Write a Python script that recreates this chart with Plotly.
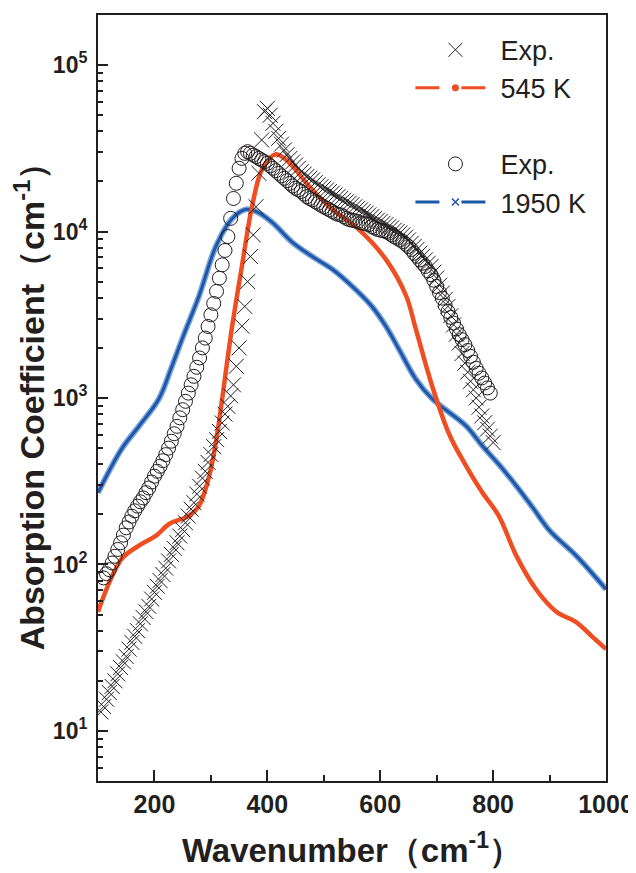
import plotly.graph_objects as go

# ---------------- data ----------------
exp545_x = [105, 110, 115, 120, 125, 130, 135, 140, 145, 150, 155, 160, 165, 170, 175, 180,
            185, 190, 195, 200, 205, 210, 215, 220, 225, 230, 235, 240, 245, 250, 255, 260,
            265, 270, 275, 280, 285, 290, 295, 300, 305, 310, 315, 320, 325, 330, 335, 340,
            345, 350, 355, 360, 365, 370, 375, 380, 385, 390, 395, 400, 405, 410, 415, 420,
            425, 430, 435, 440, 445, 450, 455, 460, 465, 470, 475, 480, 485, 490, 495, 500,
            505, 510, 515, 520, 525, 530, 535, 540, 545, 550, 555, 560, 565, 570, 575, 580,
            585, 590, 595, 600, 605, 610, 615, 620, 625, 630, 635, 640, 645, 650, 655, 660,
            665, 670, 675, 680, 685, 690, 695, 700, 705, 710, 715, 720, 725, 730, 735, 740,
            745, 750, 755, 760, 765, 770, 775, 780, 785, 790, 795, 800]
exp545_y = [13, 14, 15.5, 17, 18.5, 20, 22, 24, 26, 28, 31, 34, 37, 40, 44, 48,
            52, 56, 62, 68, 74, 80, 87, 95, 105, 115, 125, 135, 148, 162, 178, 195,
            215, 235, 265, 295, 330, 363, 410, 457, 510, 562, 630, 708, 800, 891, 1030, 1200,
            1550, 2000, 2700, 3550, 5000, 7080, 9550, 14100, 22400, 35500, 52500, 55000, 50000, 44700, 40000, 36300,
            33500, 30900, 29000, 27500, 26200, 25100, 24000, 22900, 22100, 21400, 20900, 20400, 19700, 19100, 18600, 18200,
            17800, 17400, 17000, 16600, 16200, 15800, 15400, 15100, 14800, 14500, 14100, 13800, 13500, 13200, 12900, 12600,
            12300, 12000, 11700, 11500, 11200, 11000, 10700, 10500, 10200, 10000, 9800, 9550, 9250, 8900, 8500, 8130,
            7800, 7410, 7100, 6760, 6450, 6170, 5700, 5250, 4750, 4270, 3900, 3550, 3120, 2750, 2420, 2140,
            1850, 1620, 1430, 1260, 1120, 1000, 880, 780, 710, 650, 590, 540]

exp1950_x = [110, 115, 120, 125, 130, 135, 140, 145, 150, 155, 160, 165, 170, 175, 180, 185,
             190, 195, 200, 205, 210, 215, 220, 225, 230, 235, 240, 245, 250, 255, 260, 265,
             270, 275, 280, 285, 290, 295, 300, 305, 310, 315, 320, 325, 330, 335, 340, 345,
             350, 355, 360, 365, 370, 375, 380, 385, 390, 395, 400, 405, 410, 415, 420, 425,
             430, 435, 440, 445, 450, 455, 460, 465, 470, 475, 480, 485, 490, 495, 500, 505,
             510, 515, 520, 525, 530, 535, 540, 545, 550, 555, 560, 565, 570, 575, 580, 585,
             590, 595, 600, 605, 610, 615, 620, 625, 630, 635, 640, 645, 650, 655, 660, 665,
             670, 675, 680, 685, 690, 695, 700, 705, 710, 715, 720, 725, 730, 735, 740, 745,
             750, 755, 760, 765, 770, 775, 780, 785, 790, 795]
exp1950_y = [83, 88, 93, 102, 112, 123, 135, 150, 166, 180, 195, 210, 224, 238, 251, 270,
             288, 313, 339, 363, 389, 420, 457, 500, 550, 610, 676, 760, 851, 955, 1070, 1200,
             1350, 1530, 1740, 2000, 2290, 2690, 3160, 3700, 4370, 5250, 6310, 7700, 9330, 12000, 15800, 19500,
             24000, 27500, 29500, 30200, 29500, 28800, 28200, 27500, 26900, 26300, 25700, 24800, 24000, 23200, 22400, 21600,
             20900, 20200, 19500, 18800, 18200, 17800, 17400, 16800, 16200, 15800, 15500, 15100, 14800, 14400, 14100, 13800,
             13500, 13200, 12900, 12700, 12600, 12300, 12000, 11800, 11700, 11600, 11500, 11300, 11200, 11100, 11000, 10700,
             10500, 10300, 10200, 10100, 10000, 9800, 9550, 9300, 9120, 8900, 8710, 8400, 8130, 7800, 7410, 7100,
             6760, 6450, 6170, 5800, 5500, 5100, 4680, 4300, 3980, 3600, 3310, 3050, 2820, 2600, 2400, 2240,
             2090, 1930, 1780, 1640, 1510, 1410, 1320, 1230, 1150, 1070]

model545_x = [100, 142, 173, 203, 226, 261, 279, 297, 309, 320, 337, 355, 373, 391, 415, 438,
              474, 515, 562, 610, 646, 663, 692, 722, 752, 780, 810, 841, 876, 912, 947, 975, 1000]
model545_y = [52, 108, 130, 149, 175, 196, 225, 340, 545, 990, 2600, 6200, 14200, 23700, 29100, 26100,
              18700, 13600, 10300, 6800, 4100, 2600, 1180, 608, 391, 273, 196, 113, 71, 52, 45, 37, 31]

model1950_x = [100, 142, 173, 208, 230, 252, 279, 309, 337, 362, 380, 408, 444, 479, 515, 550,
               585, 610, 633, 663, 692, 752, 780, 810, 840, 870, 900, 947, 1000]
model1950_y = [270, 495, 680, 990, 1520, 2400, 4100, 8170, 11900, 13600, 13200, 11400, 8630, 7100, 5940, 4700,
               3560, 2700, 1970, 1300, 990, 680, 520, 400, 300, 220, 160, 113, 71]

y_tickvals = [10, 100, 1000, 10000, 100000]
y_ticktext = ["10<sup>1</sup>", "10<sup>2</sup>", "10<sup>3</sup>", "10<sup>4</sup>", "10<sup>5</sup>"]
y_minor = [m * d for d in [1, 10, 100, 1000, 10000, 100000] for m in range(2, 10)]
x_tickvals = [200, 400, 600, 800, 1000]
x_minor = [300, 500, 700, 900]

RED = "#ef4e23"
BLUE = "#1d58a8"
BLUE_LIGHT = "#7fa6da"
INK = "#231f20"
FONT = "Liberation Sans, Arial, sans-serif"

fig = go.Figure()

# model curves
fig.add_trace(go.Scatter(x=model1950_x, y=model1950_y, mode="lines", line=dict(color=BLUE_LIGHT, width=6, shape="spline"),
                         showlegend=False, hoverinfo="skip"))
fig.add_trace(go.Scatter(x=model1950_x, y=model1950_y, mode="lines", line=dict(color=BLUE, width=3, shape="spline"),
                         showlegend=False))
fig.add_trace(go.Scatter(x=model545_x, y=model545_y, mode="lines", line=dict(color=RED, width=4.5, shape="spline"),
                         showlegend=False))

# experimental data
fig.add_trace(go.Scatter(x=exp1950_x, y=exp1950_y, mode="markers",
                         marker=dict(symbol="circle-open", size=14, color=INK, line=dict(width=1)),
                         showlegend=False))
fig.add_trace(go.Scatter(x=exp545_x, y=exp545_y, mode="markers",
                         marker=dict(symbol="x-thin-open", size=15, color=INK, line=dict(width=1, color=INK)),
                         showlegend=False))

# legend entries
fig.add_trace(go.Scatter(x=[None], y=[None], mode="markers", name="Exp.", legend="legend", legendgroup="a",
                         marker=dict(symbol="x-thin-open", size=14, color=INK, line=dict(width=1, color=INK))))
fig.add_trace(go.Scatter(x=[None], y=[None], mode="lines+markers", name="545 K", legend="legend", legendgroup="b",
                         line=dict(color=RED, width=3, dash="24px,22px"), marker=dict(symbol="circle", size=7, color=RED)))
fig.add_trace(go.Scatter(x=[None], y=[None], mode="markers", name="Exp.", legend="legend2", legendgroup="c",
                         marker=dict(symbol="circle-open", size=14, color=INK, line=dict(width=1))))
fig.add_trace(go.Scatter(x=[None], y=[None], mode="lines+markers", name="1950 K", legend="legend2", legendgroup="d",
                         line=dict(color=BLUE, width=3, dash="24px,22px"),
                         marker=dict(symbol="x-thin-open", size=7, color=BLUE, line=dict(width=1.5, color=BLUE))))

legend_common = dict(font=dict(family=FONT, size=27, color=INK), bgcolor="rgba(0,0,0,0)",
                     traceorder="grouped", tracegroupgap=0, itemwidth=80, xanchor="left", yanchor="top")

# The page body adds an 8 px margin, so the figure is sized to fit the 636x873 window.
fig.update_layout(
    width=628, height=865,
    margin=dict(l=90, r=30, t=7, b=92),
    paper_bgcolor="white", plot_bgcolor="white",
    font=dict(family=FONT, color=INK),
    legend=dict(x=0.615, y=0.986, **legend_common),
    legend2=dict(x=0.615, y=0.837, **legend_common),
    xaxis=dict(
        range=[100, 1000], showgrid=False, zeroline=False, automargin=False,
        showline=True, linecolor=INK, linewidth=2, mirror=True,
        ticks="inside", ticklen=11, tickwidth=2, tickcolor=INK,
        tickvals=x_tickvals, ticktext=[str(v) for v in x_tickvals],
        tickfont=dict(family=FONT, size=25, weight="bold", color=INK),
        minor=dict(tickvals=x_minor, ticks="inside", ticklen=6, tickwidth=2, tickcolor=INK),
        title=dict(text="Wavenumber（cm<sup>-1</sup>）", font=dict(family=FONT, size=33, weight="bold", color=INK),
                   standoff=22),
    ),
    yaxis=dict(
        type="log", range=[0.699, 5.301], showgrid=False, zeroline=False, automargin=False,
        showline=True, linecolor=INK, linewidth=2, mirror=True,
        ticks="inside", ticklen=10, tickwidth=2, tickcolor=INK,
        tickvals=y_tickvals, ticktext=y_ticktext, ticklabelstandoff=4,
        tickfont=dict(family=FONT, size=23, weight="bold", color=INK),
        minor=dict(tickvals=y_minor, ticks="inside", ticklen=5, tickwidth=2, tickcolor=INK),
        title=dict(text="Absorption Coefficient（cm<sup>-1</sup>）", font=dict(family=FONT, size=34, weight="bold", color=INK),
                   standoff=0),
    ),
)

fig.write_html("out.html")
